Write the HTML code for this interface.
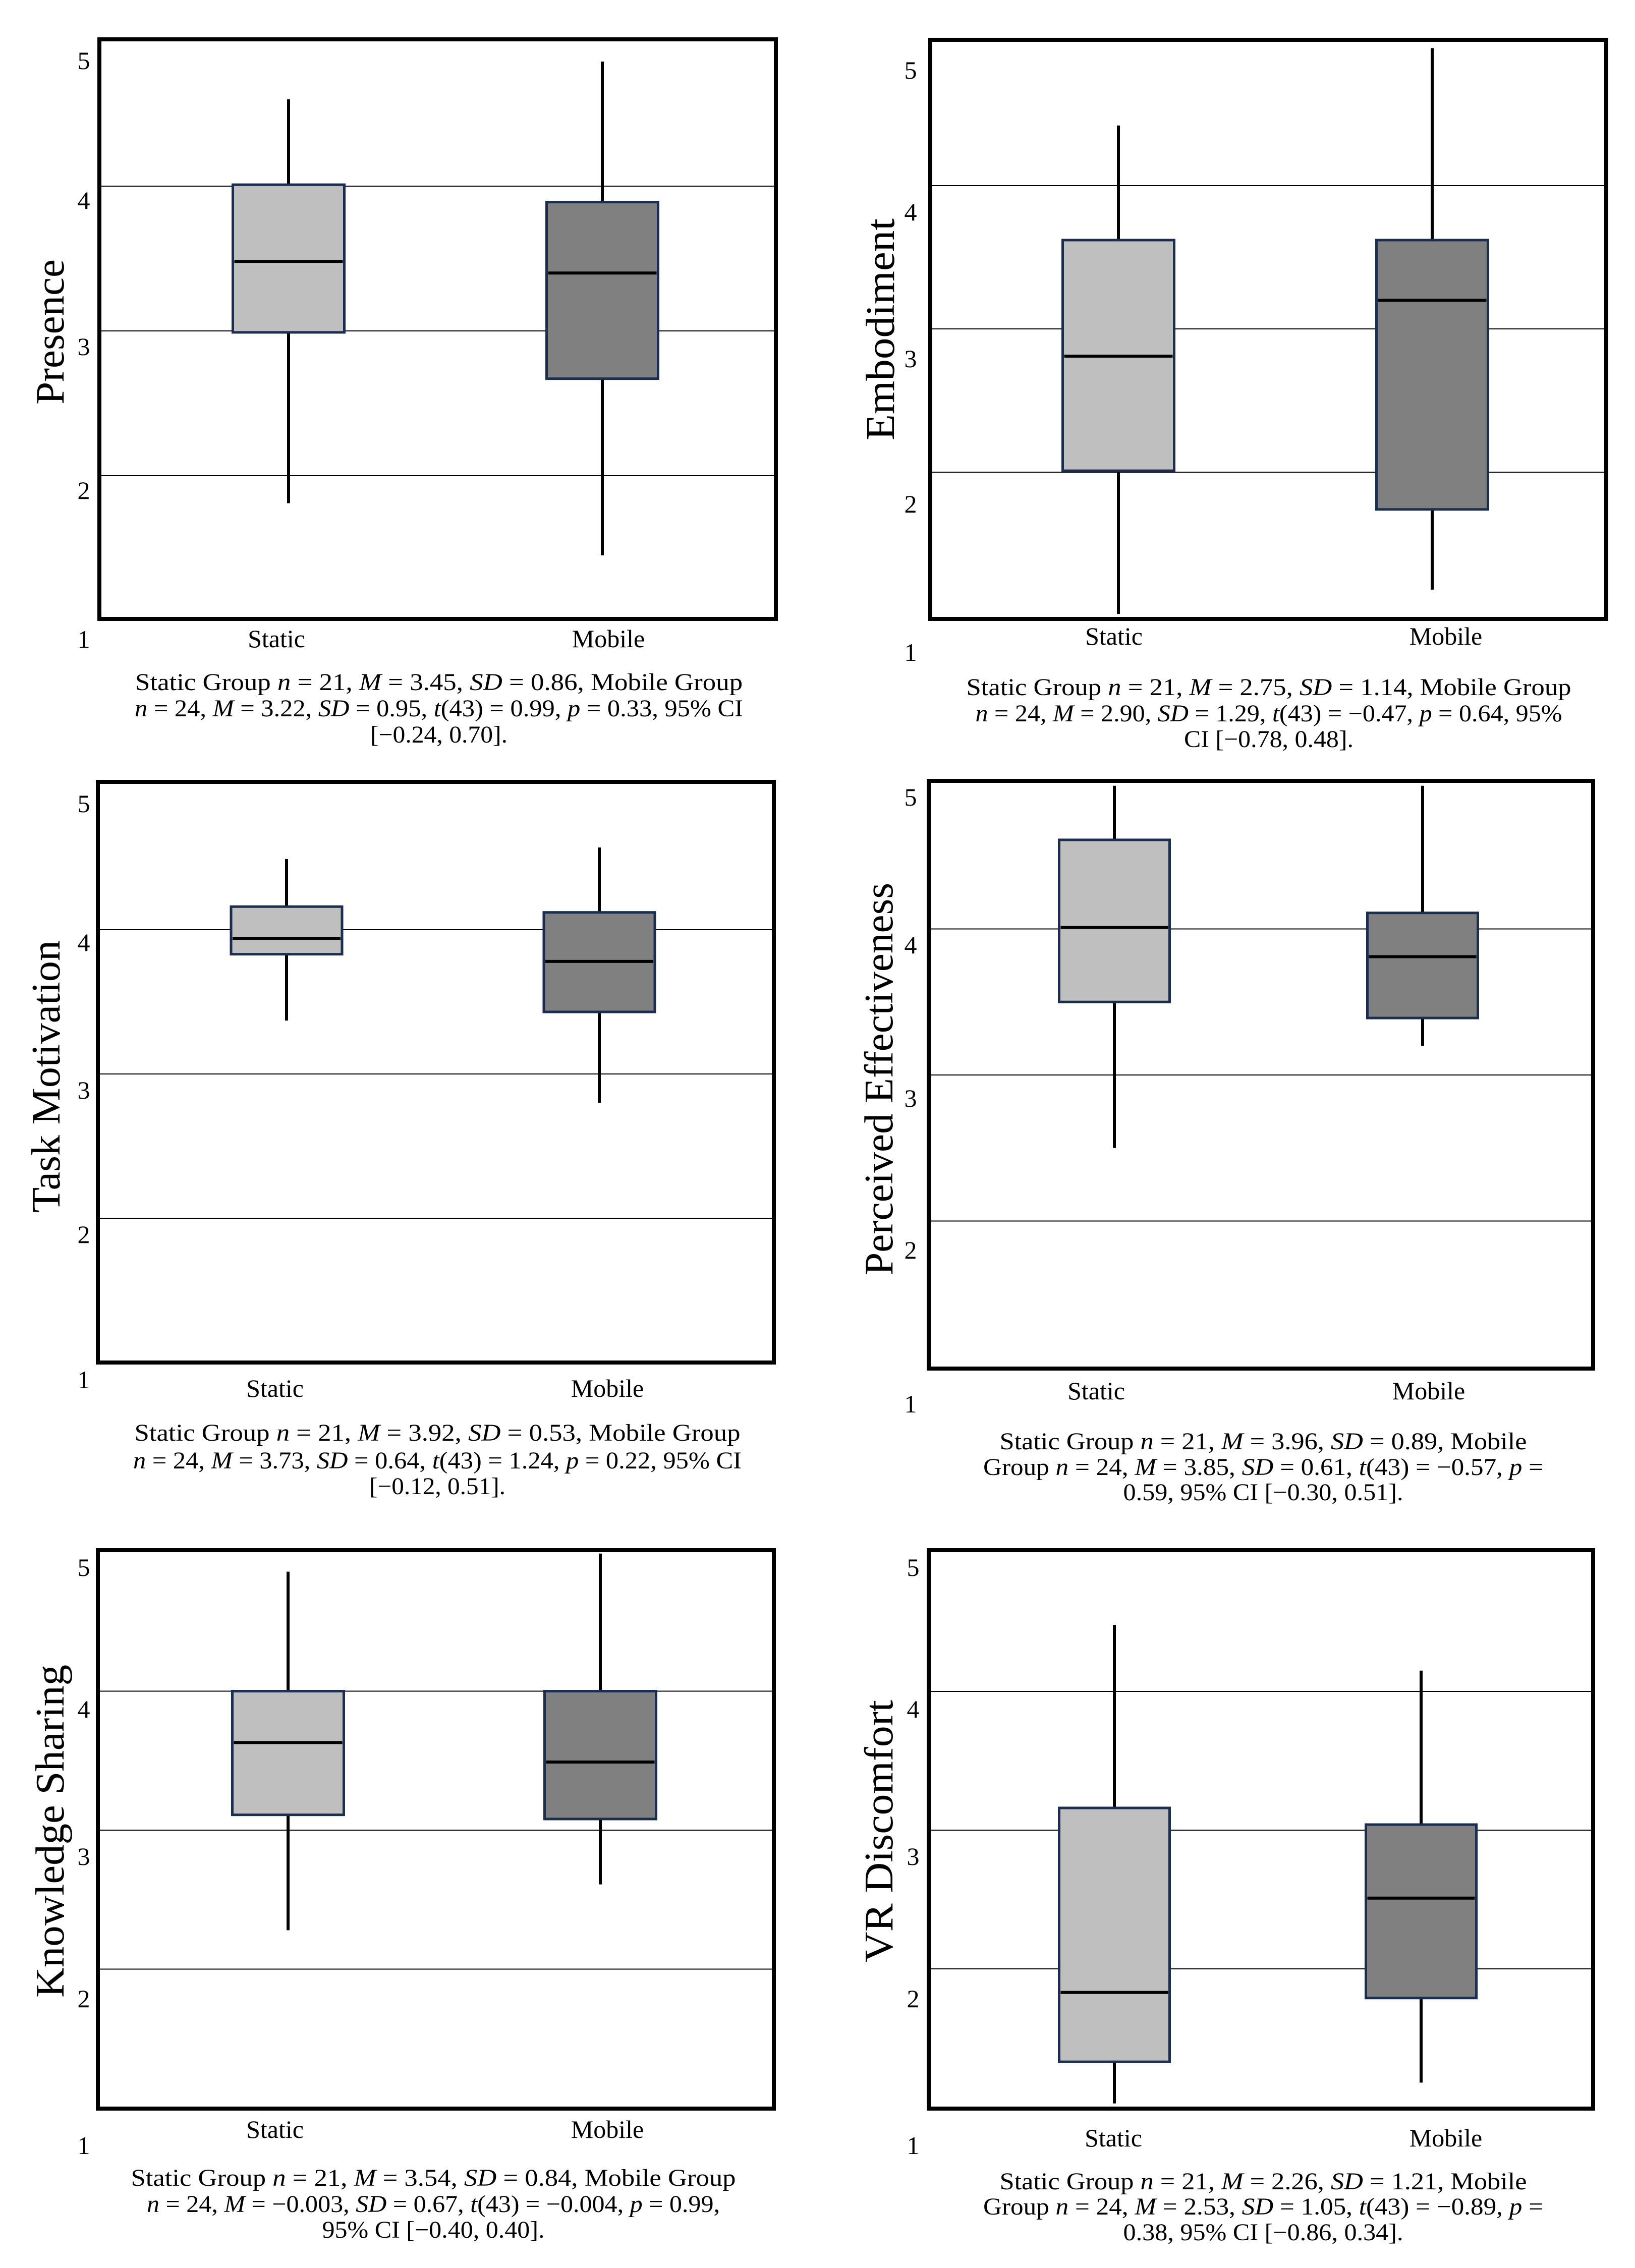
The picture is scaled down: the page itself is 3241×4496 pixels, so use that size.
<!DOCTYPE html>
<html><head><meta charset="utf-8">
<style>
html,body{margin:0;padding:0;background:#fff;}
svg{display:block;}
text{font-family:"Liberation Serif",serif;fill:#000;}
</style></head>
<body>
<svg id="chart" width="3241" height="4496" viewBox="0 0 3241 4496" xmlns="http://www.w3.org/2000/svg"></svg>
<script>
// ---- data ----
const panelTitles = ["Presence","Embodiment","Task Motivation","Perceived Effectiveness","Knowledge Sharing","VR Discomfort"];
const categories = ["Static","Mobile"];
// [min, q1, median, q3, max]
const staticStats = [
  [1.81,2.99,3.48,4.01,4.60],
  [1.01,2.01,2.81,3.62,4.42],
  [3.37,3.83,3.94,4.16,4.49],
  [2.50,3.50,4.01,4.61,4.98],
  [2.28,3.11,3.63,4.00,4.86],
  [1.03,1.33,1.83,3.16,4.48]
];
const mobileStats = [
  [1.45,2.67,3.40,3.89,4.86],
  [1.18,1.74,3.20,3.62,4.96],
  [2.80,3.43,3.78,4.12,4.57],
  [3.20,3.39,3.81,4.11,4.98],
  [2.61,3.08,3.49,4.00,4.99],
  [1.18,1.79,2.51,3.04,4.15]
];
const gridValues = [4,3,2];
const tickLabels = ["5","4","3","2","1"];
const captions = [
  ['Static Group <tspan font-style="italic">n</tspan> = 21, <tspan font-style="italic">M</tspan> = 3.45, <tspan font-style="italic">SD</tspan> = 0.86, Mobile Group',
   '<tspan font-style="italic">n</tspan> = 24, <tspan font-style="italic">M</tspan> = 3.22, <tspan font-style="italic">SD</tspan> = 0.95, <tspan font-style="italic">t</tspan>(43) = 0.99, <tspan font-style="italic">p</tspan> = 0.33, 95% CI',
   '[−0.24, 0.70].'],
  ['Static Group <tspan font-style="italic">n</tspan> = 21, <tspan font-style="italic">M</tspan> = 2.75, <tspan font-style="italic">SD</tspan> = 1.14, Mobile Group',
   '<tspan font-style="italic">n</tspan> = 24, <tspan font-style="italic">M</tspan> = 2.90, <tspan font-style="italic">SD</tspan> = 1.29, <tspan font-style="italic">t</tspan>(43) = −0.47, <tspan font-style="italic">p</tspan> = 0.64, 95%',
   'CI [−0.78, 0.48].'],
  ['Static Group <tspan font-style="italic">n</tspan> = 21, <tspan font-style="italic">M</tspan> = 3.92, <tspan font-style="italic">SD</tspan> = 0.53, Mobile Group',
   '<tspan font-style="italic">n</tspan> = 24, <tspan font-style="italic">M</tspan> = 3.73, <tspan font-style="italic">SD</tspan> = 0.64, <tspan font-style="italic">t</tspan>(43) = 1.24, <tspan font-style="italic">p</tspan> = 0.22, 95% CI',
   '[−0.12, 0.51].'],
  ['Static Group <tspan font-style="italic">n</tspan> = 21, <tspan font-style="italic">M</tspan> = 3.96, <tspan font-style="italic">SD</tspan> = 0.89, Mobile',
   'Group <tspan font-style="italic">n</tspan> = 24, <tspan font-style="italic">M</tspan> = 3.85, <tspan font-style="italic">SD</tspan> = 0.61, <tspan font-style="italic">t</tspan>(43) = −0.57, <tspan font-style="italic">p</tspan> =',
   '0.59, 95% CI [−0.30, 0.51].'],
  ['Static Group <tspan font-style="italic">n</tspan> = 21, <tspan font-style="italic">M</tspan> = 3.54, <tspan font-style="italic">SD</tspan> = 0.84, Mobile Group',
   '<tspan font-style="italic">n</tspan> = 24, <tspan font-style="italic">M</tspan> = −0.003, <tspan font-style="italic">SD</tspan> = 0.67, <tspan font-style="italic">t</tspan>(43) = −0.004, <tspan font-style="italic">p</tspan> = 0.99,',
   '95% CI [−0.40, 0.40].'],
  ['Static Group <tspan font-style="italic">n</tspan> = 21, <tspan font-style="italic">M</tspan> = 2.26, <tspan font-style="italic">SD</tspan> = 1.21, Mobile',
   'Group <tspan font-style="italic">n</tspan> = 24, <tspan font-style="italic">M</tspan> = 2.53, <tspan font-style="italic">SD</tspan> = 1.05, <tspan font-style="italic">t</tspan>(43) = −0.89, <tspan font-style="italic">p</tspan> =',
   '0.38, 95% CI [−0.86, 0.34].']
];

// ---- layout (pixel geometry, not data) ----
const layout = [
  {fx:197,fy:78,fw:1341,fh:1149,y3:656,s:287,cx:[572,1194],bw:221,tickX:166,tickY:[137,414,704,989,1284],catY:1283,title:{x:99,y:658,len:288},cap:{x:870,y:[1368,1420,1472],w:[1204,1206,272]}},
  {fx:1844,fy:79,fw:1340,fh:1148,y3:652,s:284,cx:[2217,2839],bw:221,tickX:1805,tickY:[156,437,728,1016,1310],catY:1278,title:{x:1745,y:653,len:440},cap:{x:2515,y:[1378,1430,1481],w:[1199,1163,336]}},
  {fx:194,fy:1550,fw:1340,fh:1151,y3:2129,s:286,cx:[568,1188],bw:220,tickX:166,tickY:[1610,1885,2178,2464,2752],catY:2769,title:{x:91,y:2134,len:540},cap:{x:867,y:[2856,2911,2962],w:[1201,1206,270]}},
  {fx:1841,fy:1548,fw:1317,fh:1165,y3:2131,s:289.5,cx:[2209,2820],bw:219,tickX:1805,tickY:[1597,1890,2194,2495,2800],catY:2774,title:{x:1742,y:2139,len:778},cap:{x:2504,y:[2873,2924,2974],w:[1045,1110,555]}},
  {fx:194,fy:3073,fw:1340,fh:1107,y3:3628,s:275.5,cx:[571,1190],bw:221,tickX:166,tickY:[3124,3405,3697,3979,4270],catY:4238,title:{x:99,y:3630,len:660},cap:{x:859,y:[4333,4385,4436],w:[1199,1136,441]}},
  {fx:1841,fy:3073,fw:1317,fh:1107,y3:3628,s:275,cx:[2209,2817],bw:219,tickX:1810,tickY:[3124,3405,3697,3979,4270],catY:4255,title:{x:1742,y:3630,len:520},cap:{x:2504,y:[4340,4390,4441],w:[1045,1110,555]}}
];
const catLabelX = [[548,1206],[2208,2866],[545,1204],[2173,2832],[545,1204],[2207,2866]];

const NS = "http://www.w3.org/2000/svg";
const svg = document.getElementById('chart');
function mk(tag, attrs, parent){
  const e = document.createElementNS(NS, tag);
  for (const k in attrs) e.setAttribute(k, attrs[k]);
  (parent||svg).appendChild(e);
  return e;
}

panelTitles.forEach((title, i) => {
  const L = layout[i];
  const yScale = v => L.y3 - (v - 3) * L.s;
  const g = mk('g', {});
  
  

  // gridlines
  gridValues.forEach(v => {
    const ln = mk('line', {x1:L.fx, x2:L.fx+L.fw, y1:yScale(v), y2:yScale(v), stroke:'#000', 'stroke-width':2}, g);
    
    
  });

  // tick labels
  tickLabels.forEach((t, k) => {
    const tx = mk('text', {x:L.tickX, y:L.tickY[k], 'font-size':50, 'text-anchor':'middle'}, g);
    tx.textContent = t;
    
    
  });

  // boxes
  [staticStats[i], mobileStats[i]].forEach((st, j) => {
    const cx = L.cx[j];
    const [mn, q1, med, q3, mx] = st;
    const w1 = mk('line', {x1:cx, x2:cx, y1:yScale(mx), y2:yScale(q3), stroke:'#000', 'stroke-width':6}, g);
    
    
    const w2 = mk('line', {x1:cx, x2:cx, y1:yScale(q1), y2:yScale(mn), stroke:'#000', 'stroke-width':6}, g);
    
    
    const r = mk('rect', {x:cx - L.bw/2, y:yScale(q3), width:L.bw, height:yScale(q1)-yScale(q3),
      fill: j===0 ? '#bfbfbf' : '#808080', stroke:'#1b2d50', 'stroke-width':5}, g);
    
    
    const m = mk('line', {x1:cx - L.bw/2 + 3, x2:cx + L.bw/2 - 3, y1:yScale(med), y2:yScale(med), stroke:'#000', 'stroke-width':6}, g);
    
    
    const cl = mk('text', {x:catLabelX[i][j], y:L.catY, 'font-size':50, 'text-anchor':'middle'}, g);
    cl.textContent = categories[j];
    
    
  });

  // frame
  const fr = mk('rect', {x:L.fx, y:L.fy, width:L.fw, height:L.fh, fill:'none', stroke:'#000', 'stroke-width':8}, g);
  
  

  // y title
  const tt = mk('text', {x:0, y:0, 'font-size':80, 'text-anchor':'middle', textLength:L.title.len, lengthAdjust:'spacingAndGlyphs',
    transform:'translate(' + (L.title.x + 27) + ',' + L.title.y + ') rotate(-90)'}, g);
  tt.textContent = title;
  
  

  // caption
  captions[i].forEach((line, k) => {
    const c = mk('text', {x:L.cap.x, y:L.cap.y[k], 'font-size':48, 'text-anchor':'middle', textLength:L.cap.w[k], lengthAdjust:'spacingAndGlyphs'}, g);
    c.innerHTML = line;
    
    
  });
});
</script>
</body></html>
